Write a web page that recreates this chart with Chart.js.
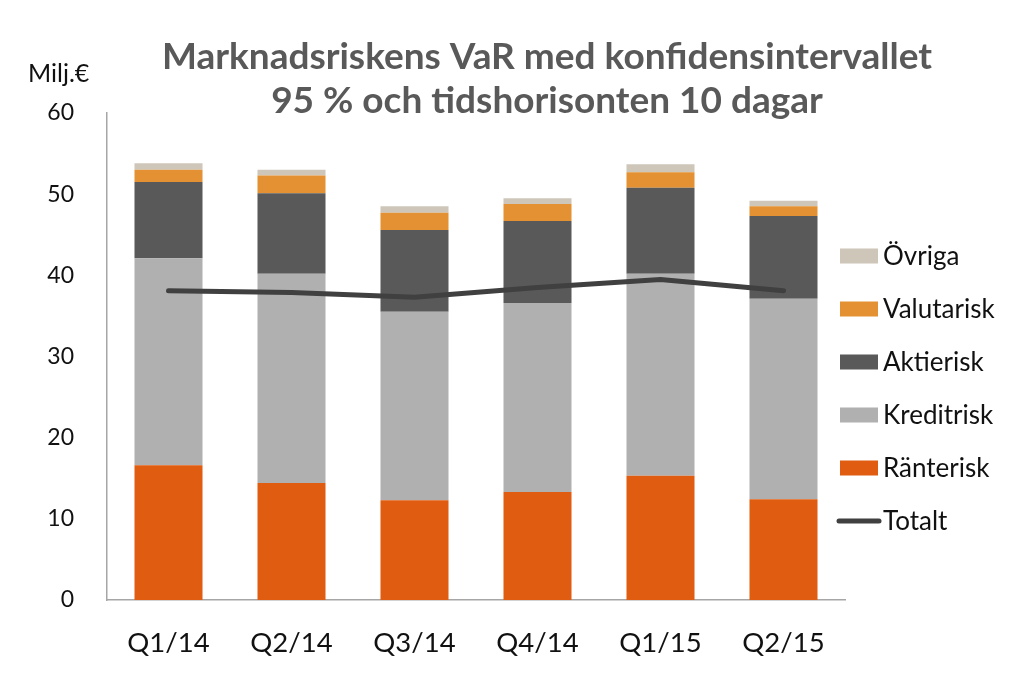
<!DOCTYPE html>
<html>
<head>
<meta charset="utf-8">
<script src="https://cdn.jsdelivr.net/npm/chart.js@4/dist/chart.umd.min.js"></script>
<style>
html,body{margin:0;padding:0;background:#fff;}
#wrap{width:1032px;height:699px;position:relative;}
</style>
</head>
<body>
<div id="wrap"><canvas id="c" width="1032" height="699"></canvas></div>
<script>
const categories = ["Q1/14","Q2/14","Q3/14","Q4/14","Q1/15","Q2/15"];
const ranterisk  = [16.6, 14.4, 12.3, 13.3, 15.3, 12.4];
const kreditrisk = [25.5, 25.8, 23.2, 23.3, 24.9, 24.7];
const aktierisk  = [9.4, 9.9, 10.1, 10.1, 10.6, 10.2];
const valutarisk = [1.5, 2.2, 2.1, 2.1, 1.9, 1.2];
const ovriga     = [0.8, 0.7, 0.8, 0.7, 1.0, 0.7];
const totalt     = [38.1, 37.9, 37.3, 38.5, 39.5, 38.1];
const titleLines = ["Marknadsriskens VaR med konfidensintervallet", "95 % och tidshorisonten 10 dagar"];
const unitLabel = "Milj.€";

const FONT = "Lato, 'Open Sans', sans-serif";

const overlay = {
  id: 'overlay',
  afterDraw(chart) {
    const ctx = chart.ctx;
    ctx.save();
    // title
    ctx.fillStyle = '#595959';
    ctx.font = "bold 37px " + FONT;
    ctx.textAlign = 'center';
    ctx.textBaseline = 'alphabetic';
    ctx.fillText(titleLines[0], 547, 69);
    ctx.fillText(titleLines[1], 547, 113);
    // unit
    ctx.fillStyle = '#111';
    ctx.font = "25px " + FONT;
    ctx.textAlign = 'left';
    ctx.textBaseline = 'middle';
    ctx.fillText(unitLabel, 28, 74);
    // legend (reverse order of datasets)
    const ds = chart.data.datasets;
    const order = [4,3,2,1,0,5];
    ctx.font = "26px " + FONT;
    order.forEach((idx, i) => {
      const d = ds[idx];
      const y = 256 + i * 53;
      if (d.type === 'line') {
        ctx.strokeStyle = d.borderColor;
        ctx.lineWidth = 5;
        ctx.lineCap = 'round';
        ctx.beginPath();
        ctx.moveTo(839, y);
        ctx.lineTo(879, y);
        ctx.stroke();
      } else {
        ctx.fillStyle = d.backgroundColor;
        ctx.fillRect(840, y - 7.5, 38, 15);
      }
      ctx.fillStyle = '#111';
      ctx.textAlign = 'left';
      ctx.textBaseline = 'middle';
      ctx.fillText(d.label, 883, y + 1);
    });
    ctx.restore();
  }
};

new Chart(document.getElementById('c'), {
  type: 'bar',
  data: {
    labels: categories,
    datasets: [
      {label:'Ränterisk', data: ranterisk, backgroundColor:'#E05C10', stack:'s', order:1},
      {label:'Kreditrisk', data: kreditrisk, backgroundColor:'#B0B0B0', stack:'s', order:1},
      {label:'Aktierisk', data: aktierisk, backgroundColor:'#595959', stack:'s', order:1},
      {label:'Valutarisk', data: valutarisk, backgroundColor:'#E39132', stack:'s', order:1},
      {label:'Övriga', data: ovriga, backgroundColor:'#CEC6B8', stack:'s', order:1},
      {label:'Totalt', data: totalt, type:'line', borderColor:'#404040', backgroundColor:'#404040',
       borderWidth:5, pointRadius:0, tension:0, stack:'t', order:0, borderCapStyle:'round', borderJoinStyle:'round', fill:false}
    ]
  },
  options: {
    responsive: false,
    animation: false,
    devicePixelRatio: 1,
    layout: { padding: { top: 113, right: 187, left: 0, bottom: 0 } },
    plugins: { legend: { display: false }, title: { display: false }, tooltip: { enabled: false } },
    datasets: { bar: { categoryPercentage: 1, barPercentage: 0.553 } },
    scales: {
      x: {
        stacked: true,
        grid: { display: false, drawTicks: false },
        border: { display: true, color: '#A6A6A6', width: 1.5 },
        ticks: { color: '#111', font: { family: FONT, size: 27.5 }, padding: 27 },
        afterFit(s) { s.height = 99; }
      },
      y: {
        stacked: true,
        min: 0, max: 60,
        grid: { display: false, drawTicks: false },
        border: { display: true, color: '#A6A6A6', width: 1.5 },
        ticks: { stepSize: 10, color: '#111', font: { family: FONT, size: 23 }, padding: 33 },
        afterFit(s) { s.width = 107; }
      }
    }
  },
  plugins: [overlay]
});
</script>
</body>
</html>
